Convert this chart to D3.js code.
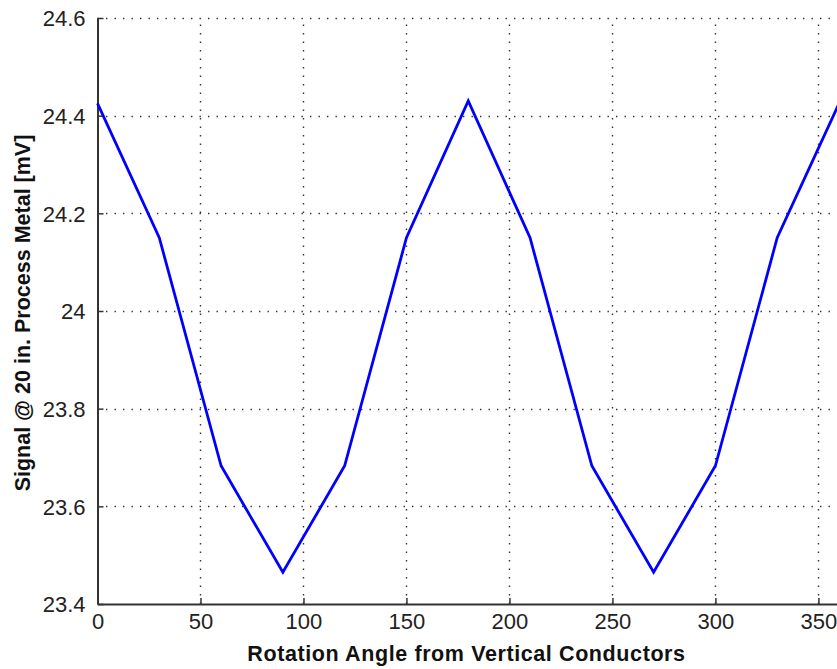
<!DOCTYPE html>
<html>
<head>
<meta charset="utf-8">
<script src="https://cdn.jsdelivr.net/npm/d3@7"></script>
<style>
  body { margin: 0; background: #fff; }
  svg { display: block; }
</style>
</head>
<body>
<script>
// rotation angle (deg) and measured signal (mV)
const angles = [0, 30, 60, 90, 120, 150, 180, 210, 240, 270, 300, 330, 360];
const signal = [24.425, 24.15, 23.683, 23.465, 23.683, 24.15, 24.43, 24.15, 23.683, 23.465, 23.683, 24.15, 24.425];
const xTicks = [0, 50, 100, 150, 200, 250, 300, 350];
const yTicks = [23.4, 23.6, 23.8, 24, 24.2, 24.4, 24.6];

const W = 837, H = 669;
const plotL = 97.5, plotT = 18, plotR = 839, plotB = 604;

const svg = d3.select("body").append("svg")
    .attr("width", W)
    .attr("height", H);

const x = d3.scaleLinear().domain([0, 360]).range([plotL, plotR]);
const y = d3.scaleLinear().domain([23.4, 24.6]).range([plotB, plotT]);

// dotted grid
svg.append("g").selectAll("line")
    .data(xTicks.filter(d => d > 0))
    .enter().append("line")
    .attr("x1", d => Math.round(x(d)) + 0.5)
    .attr("x2", d => Math.round(x(d)) + 0.5)
    .attr("y1", plotB)
    .attr("y2", plotT)
    .attr("stroke", "#333")
    .attr("stroke-width", 1.4)
    .attr("stroke-dasharray", "1.4,7.1");

svg.append("g").selectAll("line")
    .data(yTicks.filter(d => d > 23.4))
    .enter().append("line")
    .attr("x1", plotL)
    .attr("x2", W)
    .attr("y1", d => Math.round(y(d)) + 0.5)
    .attr("y2", d => Math.round(y(d)) + 0.5)
    .attr("stroke", "#333")
    .attr("stroke-width", 1.4)
    .attr("stroke-dasharray", "1.4,7.1");

// axes
const xAxis = d3.axisBottom(x)
    .tickValues(xTicks)
    .tickSizeInner(-6)
    .tickSizeOuter(0)
    .tickPadding(12)
    .tickFormat(d3.format("d"));

const yAxis = d3.axisLeft(y)
    .tickValues(yTicks)
    .tickSizeInner(-6)
    .tickSizeOuter(0)
    .tickPadding(12)
    .tickFormat(d => d === 24 ? "24" : d3.format(".1f")(d));

const gx = svg.append("g")
    .attr("transform", `translate(0,${plotB})`)
    .call(xAxis);
const gy = svg.append("g")
    .attr("transform", `translate(${plotL},0)`)
    .call(yAxis);

[gx, gy].forEach(g => {
    g.select(".domain").attr("stroke", "#333").attr("stroke-width", 2);
    g.selectAll(".tick line").attr("stroke", "#333").attr("stroke-width", 1.5);
    g.selectAll(".tick text")
        .attr("fill", "#222")
        .style("font-family", "'Liberation Sans', Arial, sans-serif")
        .style("font-size", "22px");
});
gx.selectAll(".tick text").attr("dy", "0.6em");
gy.selectAll(".tick text").attr("dy", "0.36em");

// signal line
const line = d3.line()
    .x((d, i) => x(angles[i]))
    .y(d => y(d));

svg.append("path")
    .datum(signal)
    .attr("d", line)
    .attr("fill", "none")
    .attr("stroke", "#0000ff")
    .attr("stroke-width", 2.8)
    .attr("stroke-linejoin", "miter");

// axis labels
svg.append("text")
    .attr("x", 466.5)
    .attr("y", 661)
    .attr("text-anchor", "middle")
    .style("font-family", "'Liberation Sans', Arial, sans-serif")
    .style("font-weight", "bold")
    .style("font-size", "21.5px")
    .style("letter-spacing", "0.6px")
    .attr("fill", "#111")
    .text("Rotation Angle from Vertical Conductors");

svg.append("text")
    .attr("transform", "translate(30,313) rotate(-90)")
    .attr("text-anchor", "middle")
    .style("font-family", "'Liberation Sans', Arial, sans-serif")
    .style("font-weight", "bold")
    .style("font-size", "21.5px")
    .attr("fill", "#111")
    .text("Signal @ 20 in. Process Metal [mV]");
</script>
</body>
</html>
